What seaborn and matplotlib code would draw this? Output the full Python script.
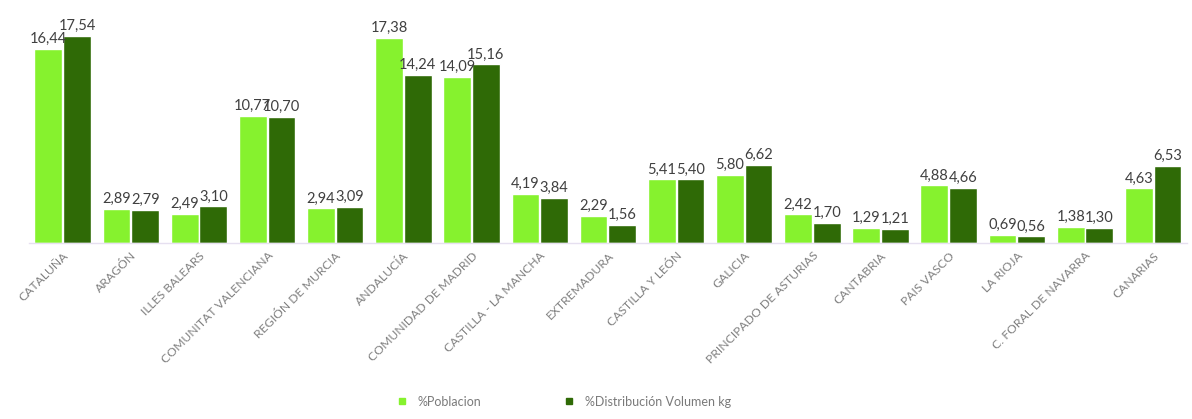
import pandas as pd
import matplotlib.pyplot as plt
import seaborn as sns
from matplotlib.lines import Line2D

regiones = ["CATALUÑA", "ARAGÓN", "ILLES BALEARS", "COMUNITAT VALENCIANA",
            "REGIÓN DE MURCIA", "ANDALUCÍA", "COMUNIDAD DE MADRID",
            "CASTILLA - LA MANCHA", "EXTREMADURA", "CASTILLA Y LEÓN", "GALICIA",
            "PRINCIPADO DE ASTURIAS", "CANTABRIA", "PAIS VASCO", "LA RIOJA",
            "C. FORAL DE NAVARRA", "CANARIAS"]
poblacion = [16.44, 2.89, 2.49, 10.77, 2.94, 17.38, 14.09, 4.19, 2.29, 5.41,
             5.80, 2.42, 1.29, 4.88, 0.69, 1.38, 4.63]
volumen = [17.54, 2.79, 3.10, 10.70, 3.09, 14.24, 15.16, 3.84, 1.56, 5.40,
           6.62, 1.70, 1.21, 4.66, 0.56, 1.30, 6.53]
series = ["%Poblacion", "%Distribución Volumen kg"]
colores = ["#86F22E", "#2F6A06"]

df = pd.concat([
    pd.DataFrame({"region": regiones, "valor": poblacion, "serie": series[0]}),
    pd.DataFrame({"region": regiones, "valor": volumen, "serie": series[1]}),
])

sns.set_style("white")
plt.rcParams['font.family'] = ['Lato', 'DejaVu Sans']

fig = plt.figure(figsize=(11.92, 4.19), dpi=100)
ax = fig.add_axes([0.024, 0.42, 0.972, 0.563])

sns.barplot(data=df, x="region", y="valor", hue="serie", palette=colores,
            width=0.84, gap=0.03, legend=False, ax=ax, saturation=1)

for cont in ax.containers:
    ax.bar_label(cont, labels=[f"{v:.2f}".replace(".", ",") for v in cont.datavalues],
                 fontsize=10.5, color="#404040", padding=2)

ax.set_ylim(0, 20)
ax.set_xlim(-0.5, len(regiones) - 0.5)
ax.set_xlabel("")
ax.set_ylabel("")
ax.set_yticks([])
for s in ["top", "right", "left"]:
    ax.spines[s].set_visible(False)
ax.spines["bottom"].set_color("#E6E0F0")
ax.spines["bottom"].set_linewidth(1)
ax.tick_params(axis="x", length=0, pad=5)
plt.setp(ax.get_xticklabels(), rotation=45, ha="right", rotation_mode="anchor",
         fontsize=8.7, color="#808080")

handles = [Line2D([], [], marker="s", linestyle="", markersize=4,
                  color=c) for c in colores]
fig.legend(handles, series, loc="lower center", bbox_to_anchor=(0.47, 0.0),
           ncol=2, frameon=False, fontsize=9, labelcolor="#7a7a7a",
           columnspacing=6, handletextpad=0.3)

fig.savefig("out.png", dpi=100)
